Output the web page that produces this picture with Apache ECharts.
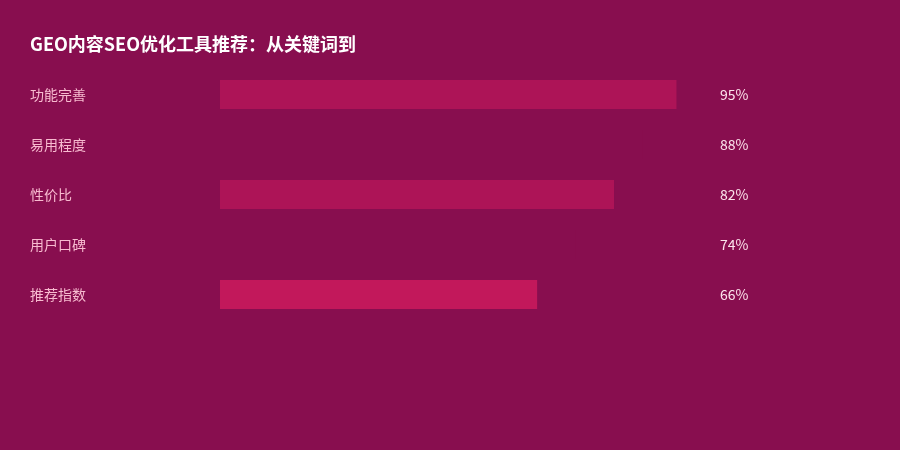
<!DOCTYPE html>
<html>
<head>
<meta charset="utf-8">
<script src="https://cdn.jsdelivr.net/npm/echarts@6/dist/echarts.min.js"></script>
<style>
html,body{margin:0;padding:0;background:#880E4F;}
#main{width:900px;height:450px;}
</style>
</head>
<body>
<div id="main"></div>
<script>
const titleText = 'GEO内容SEO优化工具推荐：从关键词到';
const categories = ['功能完善', '易用程度', '性价比', '用户口碑', '推荐指数'];
const values = [95, 88, 82, 74, 66];
const barColors = ['#AD1457', '#880E4F', '#AD1457', '#880E4F', '#C2185B'];

const chart = echarts.init(document.getElementById('main'), null, {renderer: 'canvas'});
chart.setOption({
  backgroundColor: '#880E4F',
  animation: false,
  title: {
    text: titleText,
    left: 25,
    top: 30,
    textStyle: {color: '#FFFFFF', fontSize: 18, fontWeight: 'bold', fontFamily: 'Noto Sans CJK SC'}
  },
  grid: {left: 220, right: 199.5, top: 69.5, bottom: 130.5, containLabel: false},
  xAxis: {
    type: 'value', min: 0, max: 100, show: false
  },
  yAxis: [{
    type: 'category',
    data: categories,
    inverse: true,
    axisLine: {show: false},
    axisTick: {show: false},
    splitLine: {show: false},
    axisLabel: {
      align: 'left', margin: 190,
      color: '#F8BBD0', fontSize: 14, fontFamily: 'Noto Sans CJK SC'
    }
  }, {
    type: 'category',
    position: 'right',
    data: values.map(v => v + '%'),
    inverse: true,
    axisLine: {show: false},
    axisTick: {show: false},
    splitLine: {show: false},
    axisLabel: {
      align: 'left', margin: 19.5,
      color: '#FCE4EC', fontSize: 14, fontFamily: 'Noto Sans CJK SC'
    }
  }],
  series: [{
    type: 'bar',
    data: values.map((v, i) => ({value: v, itemStyle: {color: barColors[i]}})),
    barWidth: 29,
    yAxisIndex: 0
  }]
});
</script>
</body>
</html>
